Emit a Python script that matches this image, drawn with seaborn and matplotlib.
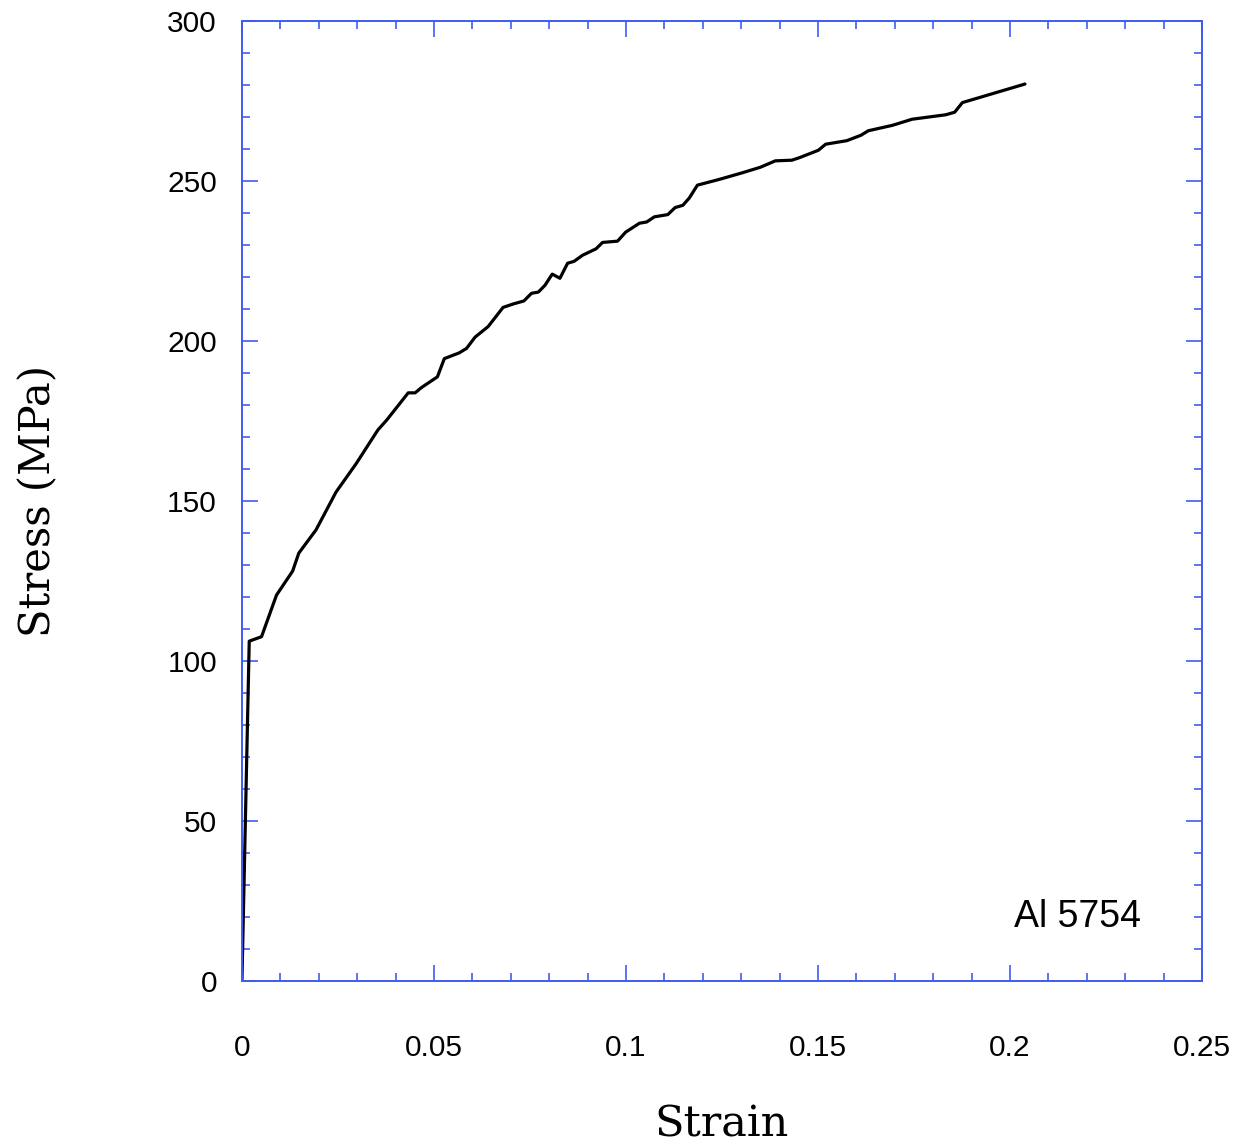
import numpy as np
import pandas as pd
import matplotlib
matplotlib.use("Agg")
import matplotlib.pyplot as plt
import seaborn as sns
from matplotlib.ticker import MultipleLocator

# Stress-strain data (Al 5754)
strain = [0.0, 0.0019, 0.0051, 0.0090, 0.0132, 0.0148, 0.0193, 0.0245, 0.0297,
          0.0354, 0.0377, 0.0433, 0.0451, 0.0468, 0.0509, 0.0527, 0.0566, 0.0585,
          0.0607, 0.0641, 0.0680, 0.0707, 0.0734, 0.0754, 0.0772, 0.0789, 0.0808,
          0.0828, 0.0848, 0.0865, 0.0887, 0.0922, 0.0939, 0.0978, 0.0999, 0.1035,
          0.1054, 0.1074, 0.1109, 0.1128, 0.1148, 0.1165, 0.1186, 0.1243, 0.1304,
          0.1350, 0.1389, 0.1432, 0.1452, 0.1501, 0.1520, 0.1575, 0.1612, 0.1631,
          0.1694, 0.1745, 0.1833, 0.1856, 0.1876, 0.2039]
stress = [0.0, 106.2, 107.6, 120.6, 128.1, 133.7, 141.0, 152.8, 161.6,
          172.2, 175.3, 183.8, 183.8, 185.5, 188.8, 194.5, 196.3, 197.7,
          201.2, 204.5, 210.5, 211.6, 212.5, 214.9, 215.3, 217.4, 220.9,
          219.6, 224.3, 224.9, 226.8, 228.8, 230.8, 231.2, 234.0, 236.8,
          237.2, 238.8, 239.5, 241.7, 242.4, 244.7, 248.7, 250.5, 252.6,
          254.3, 256.3, 256.5, 257.3, 259.6, 261.5, 262.6, 264.3, 265.7,
          267.4, 269.3, 270.7, 271.5, 274.5, 280.3]

material = "Al 5754"

df = pd.DataFrame({"Strain": strain, "Stress": stress})

sns.set_style("ticks")
plt.rcParams['font.family'] = ['Liberation Sans', 'DejaVu Sans']
plt.rcParams['text.color'] = 'black'
plt.rcParams['axes.labelcolor'] = 'black'

blue = "#3f5cf0"

fig = plt.figure(figsize=(12.42, 11.47), dpi=100)
ax = fig.add_axes([0.1948, 0.1447, 0.773, 0.837])

sns.lineplot(data=df, x="Strain", y="Stress", sort=False, color="black",
             linewidth=2.3, ax=ax)

ax.set_xlim(0, 0.25)
ax.set_ylim(0, 300)
ax.xaxis.set_major_locator(MultipleLocator(0.05))
ax.xaxis.set_minor_locator(MultipleLocator(0.01))
ax.yaxis.set_major_locator(MultipleLocator(50))
ax.yaxis.set_minor_locator(MultipleLocator(10))
ax.set_xticks([0, 0.05, 0.1, 0.15, 0.2, 0.25])
ax.set_xticklabels(["0", "0.05", "0.1", "0.15", "0.2", "0.25"])

for s in ax.spines.values():
    s.set_color(blue)
    s.set_linewidth(1.4)

ax.tick_params(which="both", direction="in", top=True, right=True, color=blue,
               width=1.2, labelsize=21.5, labelcolor="black")
ax.tick_params(which="major", length=11.5)
ax.tick_params(which="minor", length=5.8)
ax.tick_params(axis="x", which="major", pad=38)
ax.tick_params(axis="y", which="major", pad=18)

ax.set_xlabel("Strain", family=["DejaVu Serif"], fontsize=31, labelpad=30)
ax.set_ylabel("Stress (MPa)", family=["DejaVu Serif"], fontsize=30, labelpad=78)

ax.text(0.2177, 20, material, ha="center", va="center", fontsize=27)

fig.savefig("out.png", dpi=100)
